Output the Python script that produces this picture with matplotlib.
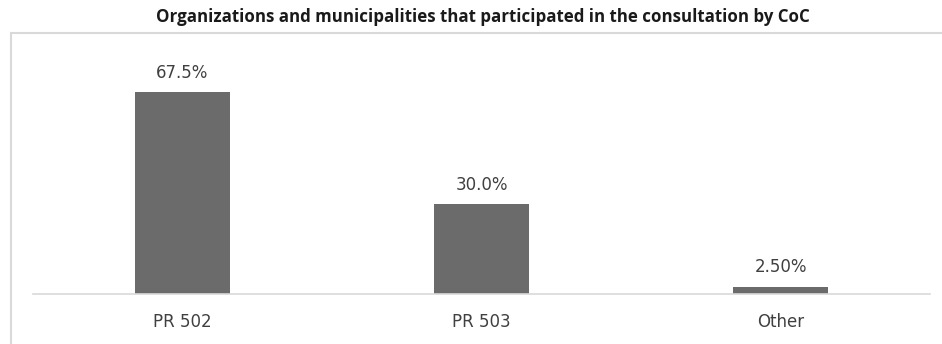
import matplotlib.pyplot as plt
from matplotlib.patches import Rectangle

categories = ["PR 502", "PR 503", "Other"]
shares = [67.5, 30.0, 2.5]

TITLE = "Organizations and municipalities that participated in the consultation by CoC"

BAR_COLOR = "#6b6b6b"
TEXT_COLOR = "#404040"
RULE_COLOR = "#d9d9d9"
LABEL_FONT = ["DejaVu Sans"]

fig = plt.figure(figsize=(9.42, 3.44), dpi=100)
fig.patch.set_facecolor("white")

# light frame around the chart area (runs off the right and bottom edge)
fig.patches.append(Rectangle(
    (11 / 942, -0.2), 1.2, 0.2 + (344 - 33) / 344,
    transform=fig.transFigure, fill=False,
    edgecolor=RULE_COLOR, linewidth=1.5, zorder=0,
))

ax = fig.add_axes([33 / 942, 50 / 344, 897 / 942, 254 / 344])
ax.set_facecolor("none")

x = range(len(categories))
bars = ax.bar(x, shares, width=0.315, color=BAR_COLOR, zorder=2)

for rect, v in zip(bars, shares):
    ax.annotate(
        f"{v:#.3g}%",
        xy=(rect.get_x() + rect.get_width() / 2, rect.get_height()),
        xytext=(0, 14), textcoords="offset points",
        ha="center", va="center",
        fontsize=12, color=TEXT_COLOR, family=LABEL_FONT,
    )

ax.set_xlim(-0.5, len(categories) - 0.5)
ax.set_ylim(0, 85)
ax.set_xticks(list(x))
ax.set_xticklabels(categories, fontsize=12, color=TEXT_COLOR, family=LABEL_FONT)
ax.tick_params(axis="x", length=0, pad=14)
ax.set_yticks([])
for side in ("top", "right", "left"):
    ax.spines[side].set_visible(False)
ax.spines["bottom"].set_color(RULE_COLOR)
ax.spines["bottom"].set_linewidth(1.2)

fig.text(
    483 / 942, 1 - 17 / 344, TITLE,
    ha="center", va="center",
    fontsize=12.15, fontweight="bold", color="#1a1a1a",
    family=["Open Sans", "DejaVu Sans"],
)

fig.savefig("out.png", dpi=100, facecolor="white")
